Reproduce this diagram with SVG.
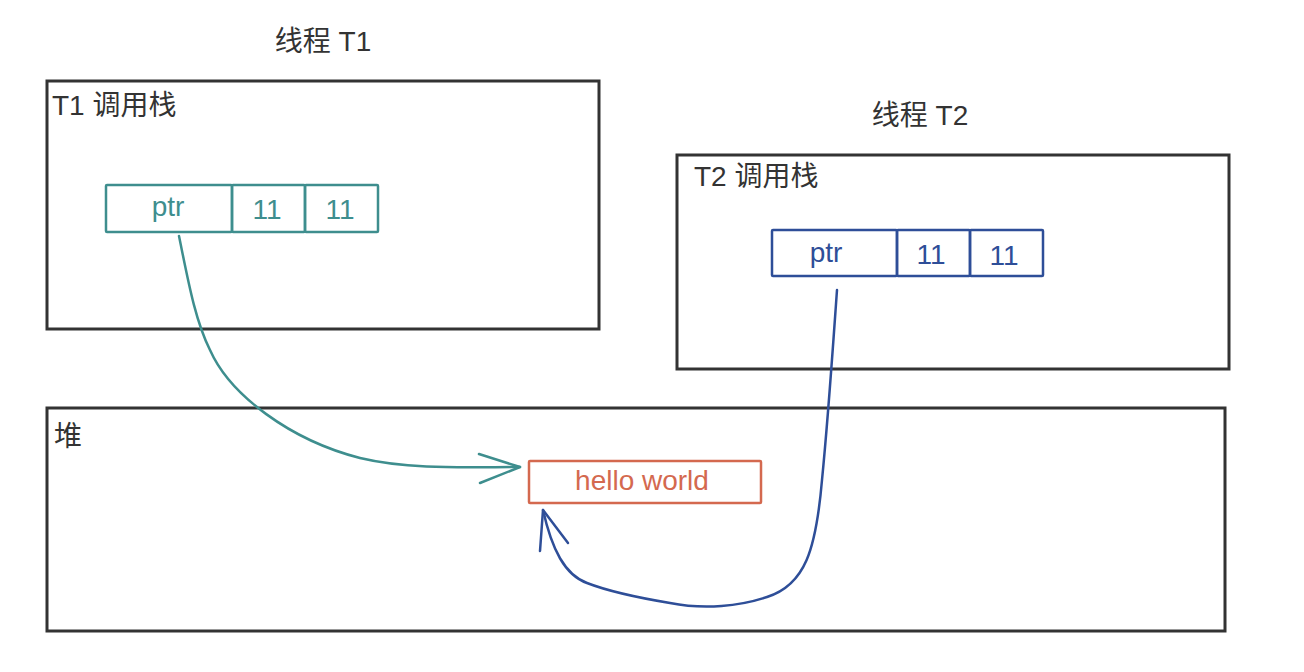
<svg xmlns="http://www.w3.org/2000/svg" width="1304" height="672" viewBox="0 0 1304 672">
<style>
text{font-family:"Liberation Sans","Noto Sans CJK SC",sans-serif;font-size:28px;}
.frame{fill:none;stroke:#333;stroke-width:3;}
.lbl{fill:#333;}
.teal{fill:none;stroke:#3e8e8e;stroke-width:2.5;}
.tealt{fill:#3e8e8e;text-anchor:middle;}
.blue{fill:none;stroke:#2e4e98;stroke-width:2.5;}
.bluet{fill:#2e4e98;text-anchor:middle;}
.red{fill:none;stroke:#d4694f;stroke-width:2.5;}
.redt{fill:#d4694f;text-anchor:middle;}
</style>
<rect width="1304" height="672" fill="#fff"/>
<g id="title-t1"><text class="lbl" x="323" y="51" text-anchor="middle">线程 T1</text></g>
<g id="title-t2"><text class="lbl" x="920" y="125" text-anchor="middle">线程 T2</text></g>
<g id="t1-stack">
<rect class="frame" x="47" y="81" width="552" height="248"/>
<text class="lbl" x="52" y="115">T1 调用栈</text>
</g>
<g id="t1-cells">
<rect class="teal" x="106" y="185" width="126" height="47" rx="1"/>
<rect class="teal" x="232" y="185" width="73" height="47" rx="1"/>
<rect class="teal" x="305" y="185" width="73" height="47" rx="1"/>
<text class="tealt" x="168" y="216">ptr</text>
<text class="tealt" x="267" y="219">11</text>
<text class="tealt" x="340" y="219">11</text>
</g>
<g id="t2-stack">
<rect class="frame" x="677" y="155" width="552" height="214"/>
<text class="lbl" x="694" y="186">T2 调用栈</text>
</g>
<g id="t2-cells">
<rect class="blue" x="772" y="230" width="125" height="46" rx="1"/>
<rect class="blue" x="897" y="230" width="73" height="46" rx="1"/>
<rect class="blue" x="970" y="230" width="73" height="46" rx="1"/>
<text class="bluet" x="826" y="262">ptr</text>
<text class="bluet" x="931" y="264">11</text>
<text class="bluet" x="1004" y="265">11</text>
</g>
<g id="heap">
<rect class="frame" x="47" y="408" width="1178" height="223"/>
<text class="lbl" x="54" y="446">堆</text>
</g>
<g id="hello">
<rect class="red" x="529" y="461" width="232" height="42" rx="1"/>
<text class="redt" x="642" y="490">hello world</text>
</g>
<g id="connectors" fill="none" stroke-width="2.5" stroke-linecap="round" stroke-linejoin="round">
<path stroke="#3e8e8e" d="M179,236 C188,280 195,320 210,350 C230,395 290,440 360,458 C410,470 470,467 520,467"/>
<path stroke="#3e8e8e" d="M479,454 L520,467 L480,483"/>
<path stroke="#2e4e98" d="M837,290 C832,360 828,420 822,480 C816,550 805,585 767,597 C740,606 705,610 670,603 C640,598 605,590 587,583 C565,575 552,550 543,510"/>
<path stroke="#2e4e98" d="M540,551 L543,510 L568,543"/>
</g>
</svg>
